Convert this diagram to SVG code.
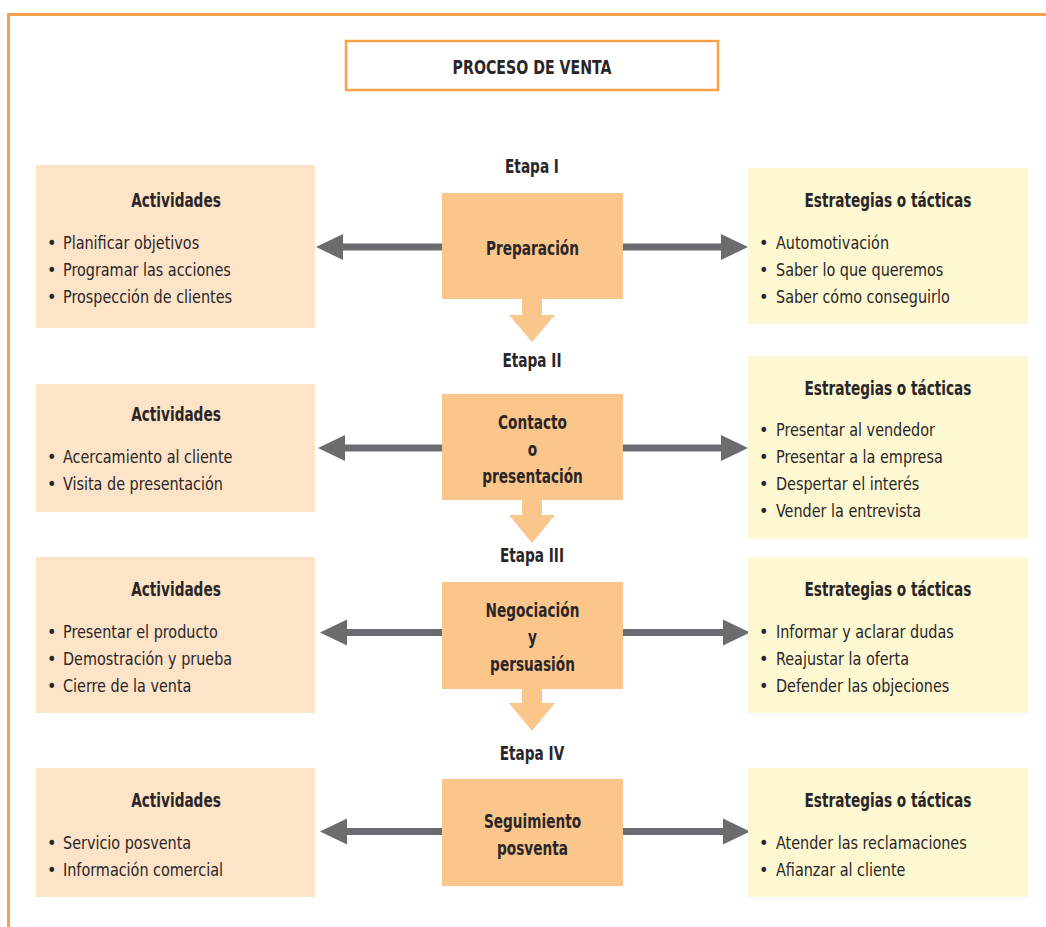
<svg xmlns="http://www.w3.org/2000/svg" width="1046" height="927" viewBox="0 0 1046 927">
<style>
text{font-family:"DejaVu Sans Condensed","Liberation Sans Narrow","Liberation Sans",sans-serif;fill:#2a2627}
.b{font-weight:bold;font-size:19px;text-anchor:middle;transform-box:fill-box;transform-origin:center;transform:scaleX(0.8)}
.t{font-size:18px;transform-box:fill-box;transform-origin:left center;transform:scaleX(0.89)}
.u{font-size:18px}
.act{fill:#fde3c8}
.str{fill:#fef8d2}
.stg{fill:#fbc68b}
.sh{fill:#6b6c70}
.dn{fill:#fbc68b}
</style>
<rect width="1046" height="927" fill="#ffffff"/>
<path d="M8.5,927 V14.5 H1046" fill="none" stroke="#f7a24a" stroke-width="3"/>
<g id="title">
<rect x="346" y="41" width="372" height="49" fill="#fff" stroke="#f7a24a" stroke-width="2.5"/>
<text class="b" x="532" y="74" style="transform:scaleX(0.83)">PROCESO DE VENTA</text>
</g>
<g id="etapas">
<text class="b" x="532" y="173">Etapa I</text>
<text class="b" x="532" y="367">Etapa II</text>
<text class="b" x="532" y="562">Etapa III</text>
<text class="b" x="532" y="760">Etapa IV</text>
</g>
<g id="connectors">
<rect class="sh" x="342" y="243.5" width="101" height="7"/><polygon class="sh" points="316,247 343,234 343,260"/>
<rect class="sh" x="622" y="243.5" width="100" height="7"/><polygon class="sh" points="748,247 721,234 721,260"/>
<rect class="sh" x="344" y="444.5" width="99" height="7"/><polygon class="sh" points="318,448 345,435 345,461"/>
<rect class="sh" x="622" y="444.5" width="100" height="7"/><polygon class="sh" points="748,448 721,435 721,461"/>
<rect class="sh" x="346" y="629" width="97" height="7"/><polygon class="sh" points="320,632.5 347,619.5 347,645.5"/>
<rect class="sh" x="622" y="629" width="102" height="7"/><polygon class="sh" points="750,632.5 723,619.5 723,645.5"/>
<rect class="sh" x="346" y="828" width="97" height="7"/><polygon class="sh" points="320,831.5 347,818.5 347,844.5"/>
<rect class="sh" x="622" y="828" width="102" height="7"/><polygon class="sh" points="750,831.5 723,818.5 723,844.5"/>
<polygon class="dn" points="522,298 542,298 542,315 555,315 532,342 509,315 522,315"/>
<polygon class="dn" points="522,499 542,499 542,515 555,515 532,543 509,515 522,515"/>
<polygon class="dn" points="522,688 542,688 542,703 555,703 532,731 509,703 522,703"/>
</g>
<g id="stage1">
<rect class="stg" x="442" y="193" width="181" height="106"/>
<text class="b" x="532.5" y="255">Preparación</text>
</g>
<g id="stage2">
<rect class="stg" x="442" y="394" width="181" height="106"/>
<text class="b" x="532.5" y="429">Contacto</text>
<text class="b" x="532.5" y="456">o</text>
<text class="b" x="532.5" y="483">presentación</text>
</g>
<g id="stage3">
<rect class="stg" x="442" y="582" width="181" height="107"/>
<text class="b" x="532.5" y="617">Negociación</text>
<text class="b" x="532.5" y="644">y</text>
<text class="b" x="532.5" y="671">persuasión</text>
</g>
<g id="stage4">
<rect class="stg" x="442" y="779" width="181" height="107"/>
<text class="b" x="532.5" y="828">Seguimiento</text>
<text class="b" x="532.5" y="855">posventa</text>
</g>
<g id="act1">
<rect class="act" x="36" y="165" width="279" height="163"/>
<text class="b" x="176" y="207">Actividades</text>
<text class="u" x="47" y="249">•</text><text class="t" x="63" y="249">Planificar objetivos</text>
<text class="u" x="47" y="276">•</text><text class="t" x="63" y="276">Programar las acciones</text>
<text class="u" x="47" y="303">•</text><text class="t" x="63" y="303">Prospección de clientes</text>
</g>
<g id="act2">
<rect class="act" x="36" y="384" width="279" height="128"/>
<text class="b" x="176" y="421">Actividades</text>
<text class="u" x="47" y="463">•</text><text class="t" x="63" y="463">Acercamiento al cliente</text>
<text class="u" x="47" y="490">•</text><text class="t" x="63" y="490">Visita de presentación</text>
</g>
<g id="act3">
<rect class="act" x="36" y="557" width="279" height="156"/>
<text class="b" x="176" y="596">Actividades</text>
<text class="u" x="47" y="638">•</text><text class="t" x="63" y="638">Presentar el producto</text>
<text class="u" x="47" y="665">•</text><text class="t" x="63" y="665">Demostración y prueba</text>
<text class="u" x="47" y="692">•</text><text class="t" x="63" y="692">Cierre de la venta</text>
</g>
<g id="act4">
<rect class="act" x="36" y="768" width="279" height="129"/>
<text class="b" x="176" y="807">Actividades</text>
<text class="u" x="47" y="849">•</text><text class="t" x="63" y="849">Servicio posventa</text>
<text class="u" x="47" y="876">•</text><text class="t" x="63" y="876">Información comercial</text>
</g>
<g id="str1">
<rect class="str" x="748" y="168" width="280" height="156"/>
<text class="b" x="888" y="207">Estrategias o tácticas</text>
<text class="u" x="759" y="249">•</text><text class="t" x="776" y="249">Automotivación</text>
<text class="u" x="759" y="276">•</text><text class="t" x="776" y="276">Saber lo que queremos</text>
<text class="u" x="759" y="303">•</text><text class="t" x="776" y="303">Saber cómo conseguirlo</text>
</g>
<g id="str2">
<rect class="str" x="748" y="356" width="280" height="183"/>
<text class="b" x="888" y="395">Estrategias o tácticas</text>
<text class="u" x="759" y="436">•</text><text class="t" x="776" y="436">Presentar al vendedor</text>
<text class="u" x="759" y="463">•</text><text class="t" x="776" y="463">Presentar a la empresa</text>
<text class="u" x="759" y="490">•</text><text class="t" x="776" y="490">Despertar el interés</text>
<text class="u" x="759" y="517">•</text><text class="t" x="776" y="517">Vender la entrevista</text>
</g>
<g id="str3">
<rect class="str" x="748" y="557" width="280" height="156"/>
<text class="b" x="888" y="596">Estrategias o tácticas</text>
<text class="u" x="759" y="638">•</text><text class="t" x="776" y="638">Informar y aclarar dudas</text>
<text class="u" x="759" y="665">•</text><text class="t" x="776" y="665">Reajustar la oferta</text>
<text class="u" x="759" y="692">•</text><text class="t" x="776" y="692">Defender las objeciones</text>
</g>
<g id="str4">
<rect class="str" x="748" y="768" width="280" height="129"/>
<text class="b" x="888" y="807">Estrategias o tácticas</text>
<text class="u" x="759" y="849">•</text><text class="t" x="776" y="849">Atender las reclamaciones</text>
<text class="u" x="759" y="876">•</text><text class="t" x="776" y="876">Afianzar al cliente</text>
</g>
</svg>
